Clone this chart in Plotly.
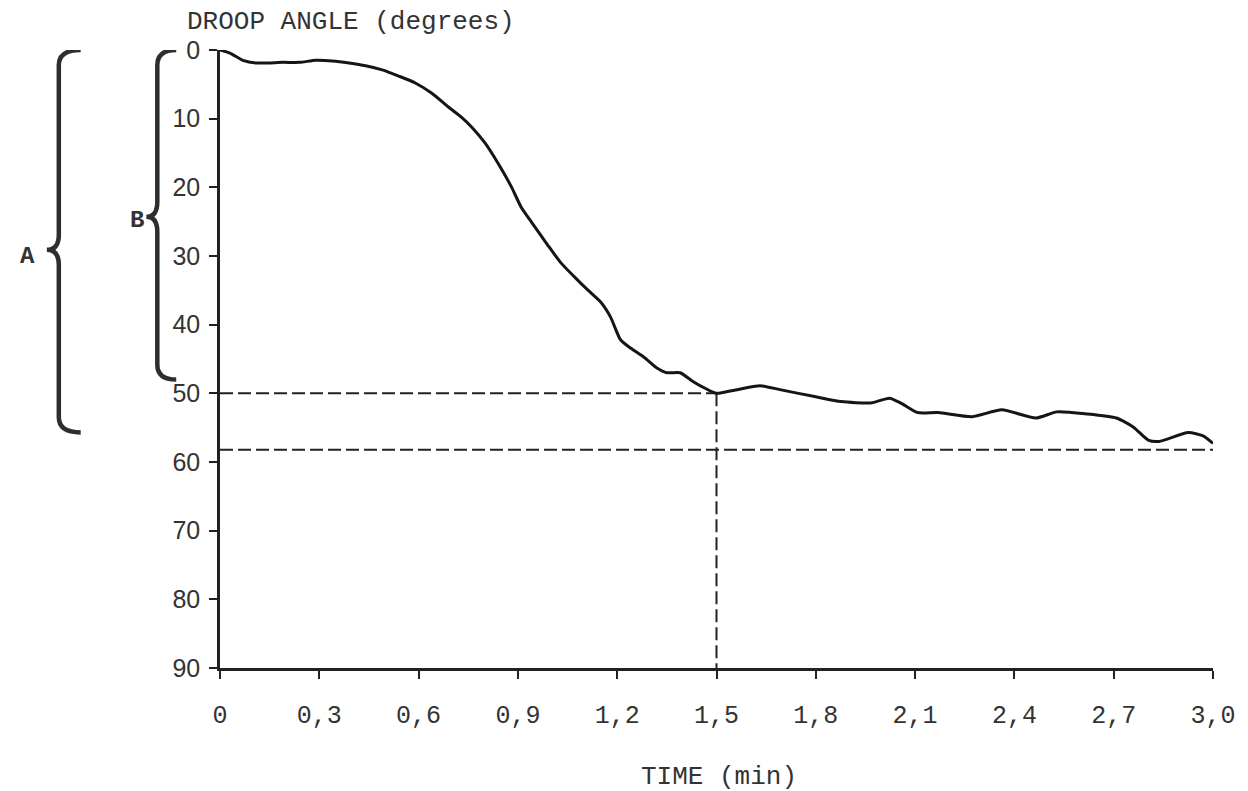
import plotly.graph_objects as go

# ---- data ----
time_min = [0, 0.03, 0.069, 0.11, 0.19, 0.24, 0.29, 0.34, 0.39, 0.44, 0.49, 0.54, 0.59,
            0.64, 0.69, 0.73, 0.76, 0.80, 0.84, 0.88, 0.91, 0.94, 0.99, 1.03, 1.07, 1.11,
            1.15, 1.18, 1.21, 1.24, 1.28, 1.32, 1.35, 1.39, 1.43, 1.467, 1.5, 1.557,
            1.632, 1.695, 1.80, 1.876, 1.966, 2.023, 2.056, 2.107, 2.17, 2.272, 2.362,
            2.465, 2.528, 2.618, 2.708, 2.759, 2.804, 2.837, 2.925, 2.97, 3.0]
droop_deg = [0, 0.45, 1.5, 1.9, 1.8, 1.8, 1.5, 1.6, 1.9, 2.3, 2.9, 3.8, 4.8,
             6.3, 8.3, 9.8, 11.2, 13.5, 16.5, 19.9, 22.9, 25.0, 28.4, 31.0, 33.0, 34.9,
             36.7, 38.9, 42.2, 43.4, 44.7, 46.3, 47.0, 47.0, 48.3, 49.3, 50.0, 49.5,
             48.9, 49.5, 50.5, 51.2, 51.4, 50.7, 51.4, 52.8, 52.8, 53.4, 52.4,
             53.6, 52.7, 53.0, 53.6, 54.9, 56.8, 57.0, 55.7, 56.2, 57.3]

x_tickvals = [0, 0.3, 0.6, 0.9, 1.2, 1.5, 1.8, 2.1, 2.4, 2.7, 3.0]
x_ticktext = ["0", "0,3", "0,6", "0,9", "1,2", "1,5", "1,8", "2,1", "2,4", "2,7", "3,0"]
y_tickvals = [0, 10, 20, 30, 40, 50, 60, 70, 80, 90]

t_half = 1.5          # min
angle_half = 50       # degrees, droop at 1.5 min (B)
angle_final = 58.2    # degrees, final droop (A)
t_end = 3.0

brace_A = (0, 29.1, 55.7)   # top, tip, bottom (degrees)
brace_B = (0, 24.3, 48.0)

INK = "#222222"
MONO = "Liberation Mono, Courier New, monospace"
SANS = "Liberation Sans, Arial, sans-serif"

fig = go.Figure()

# dashed reference lines
dash_style = dict(color=INK, width=2, dash="13px,5px")
fig.add_trace(go.Scatter(x=[0, t_half], y=[angle_half, angle_half], mode="lines",
                         line=dash_style, showlegend=False, hoverinfo="skip"))
fig.add_trace(go.Scatter(x=[t_half, t_half], y=[angle_half, 90], mode="lines",
                         line=dash_style, showlegend=False, hoverinfo="skip"))
fig.add_trace(go.Scatter(x=[0, t_end], y=[angle_final, angle_final], mode="lines",
                         line=dash_style, showlegend=False, hoverinfo="skip"))

# the droop curve
fig.add_trace(go.Scatter(x=time_min, y=droop_deg, mode="lines",
                         line=dict(color="#151515", width=3, shape="spline", smoothing=0.6),
                         showlegend=False))


def brace_path(x_end, x_v, x_tip, top, mid, bot, d=2.2):
    return (f"M {x_end},{top} Q {x_v},{top} {x_v},{top + d} "
            f"L {x_v},{mid - d} Q {x_v},{mid} {x_tip},{mid} "
            f"Q {x_v},{mid} {x_v},{mid + d} "
            f"L {x_v},{bot - d} Q {x_v},{bot} {x_end},{bot}")


W = 998.0
H = 618.5


def px2paper(px):
    return (px - 220) / W


def py2paper(py):
    return (668.5 - py) / H


fig.add_shape(type="path", xref="paper", yref="y",
              path=brace_path(px2paper(80), px2paper(58), px2paper(46), *brace_A),
              line=dict(color="#2e2e2e", width=4.5))
fig.add_shape(type="path", xref="paper", yref="y",
              path=brace_path(px2paper(176), px2paper(157), px2paper(146), *brace_B),
              line=dict(color="#2e2e2e", width=4.5))

fig.add_annotation(x=px2paper(17), y=brace_A[1] + 1.0, xref="paper", yref="y", text="<b>A</b>",
                   showarrow=False, font=dict(family=MONO, size=24, color="#333333"))
fig.add_annotation(x=px2paper(128), y=brace_B[1] + 0.5, xref="paper", yref="y", text="<b>B</b>",
                   showarrow=False, font=dict(family=MONO, size=24, color="#333333"))

fig.add_annotation(x=px2paper(185), y=py2paper(22), xref="paper", yref="paper",
                   text="DROOP ANGLE (degrees)", showarrow=False, xanchor="left", yanchor="middle",
                   font=dict(family=MONO, size=26, color="#333333"))
fig.add_annotation(x=px2paper(722), y=py2paper(778), xref="paper", yref="paper",
                   text="TIME (min)", showarrow=False, xanchor="center", yanchor="middle",
                   font=dict(family=MONO, size=26, color="#333333"))

fig.update_xaxes(range=[0, t_end], tickvals=x_tickvals, ticktext=x_ticktext,
                 showgrid=False, zeroline=False, showline=True, linecolor=INK, linewidth=2.5,
                 ticks="outside", ticklen=8, tickwidth=2, tickcolor=INK,
                 ticklabelstandoff=14,
                 tickfont=dict(family=MONO, size=25, color="#333333"))
fig.update_yaxes(range=[90, 0], tickvals=y_tickvals,
                 showgrid=False, zeroline=False, showline=True, linecolor=INK, linewidth=2.5,
                 ticks="outside", ticklen=8, tickwidth=2, tickcolor=INK,
                 ticklabelstandoff=4,
                 tickfont=dict(family=SANS, size=25, color="#333333"))

fig.update_layout(width=1248, height=791,
                  margin=dict(l=220, r=30, t=50, b=122.5),
                  paper_bgcolor="white", plot_bgcolor="white",
                  showlegend=False)

fig.write_html("out.html")
